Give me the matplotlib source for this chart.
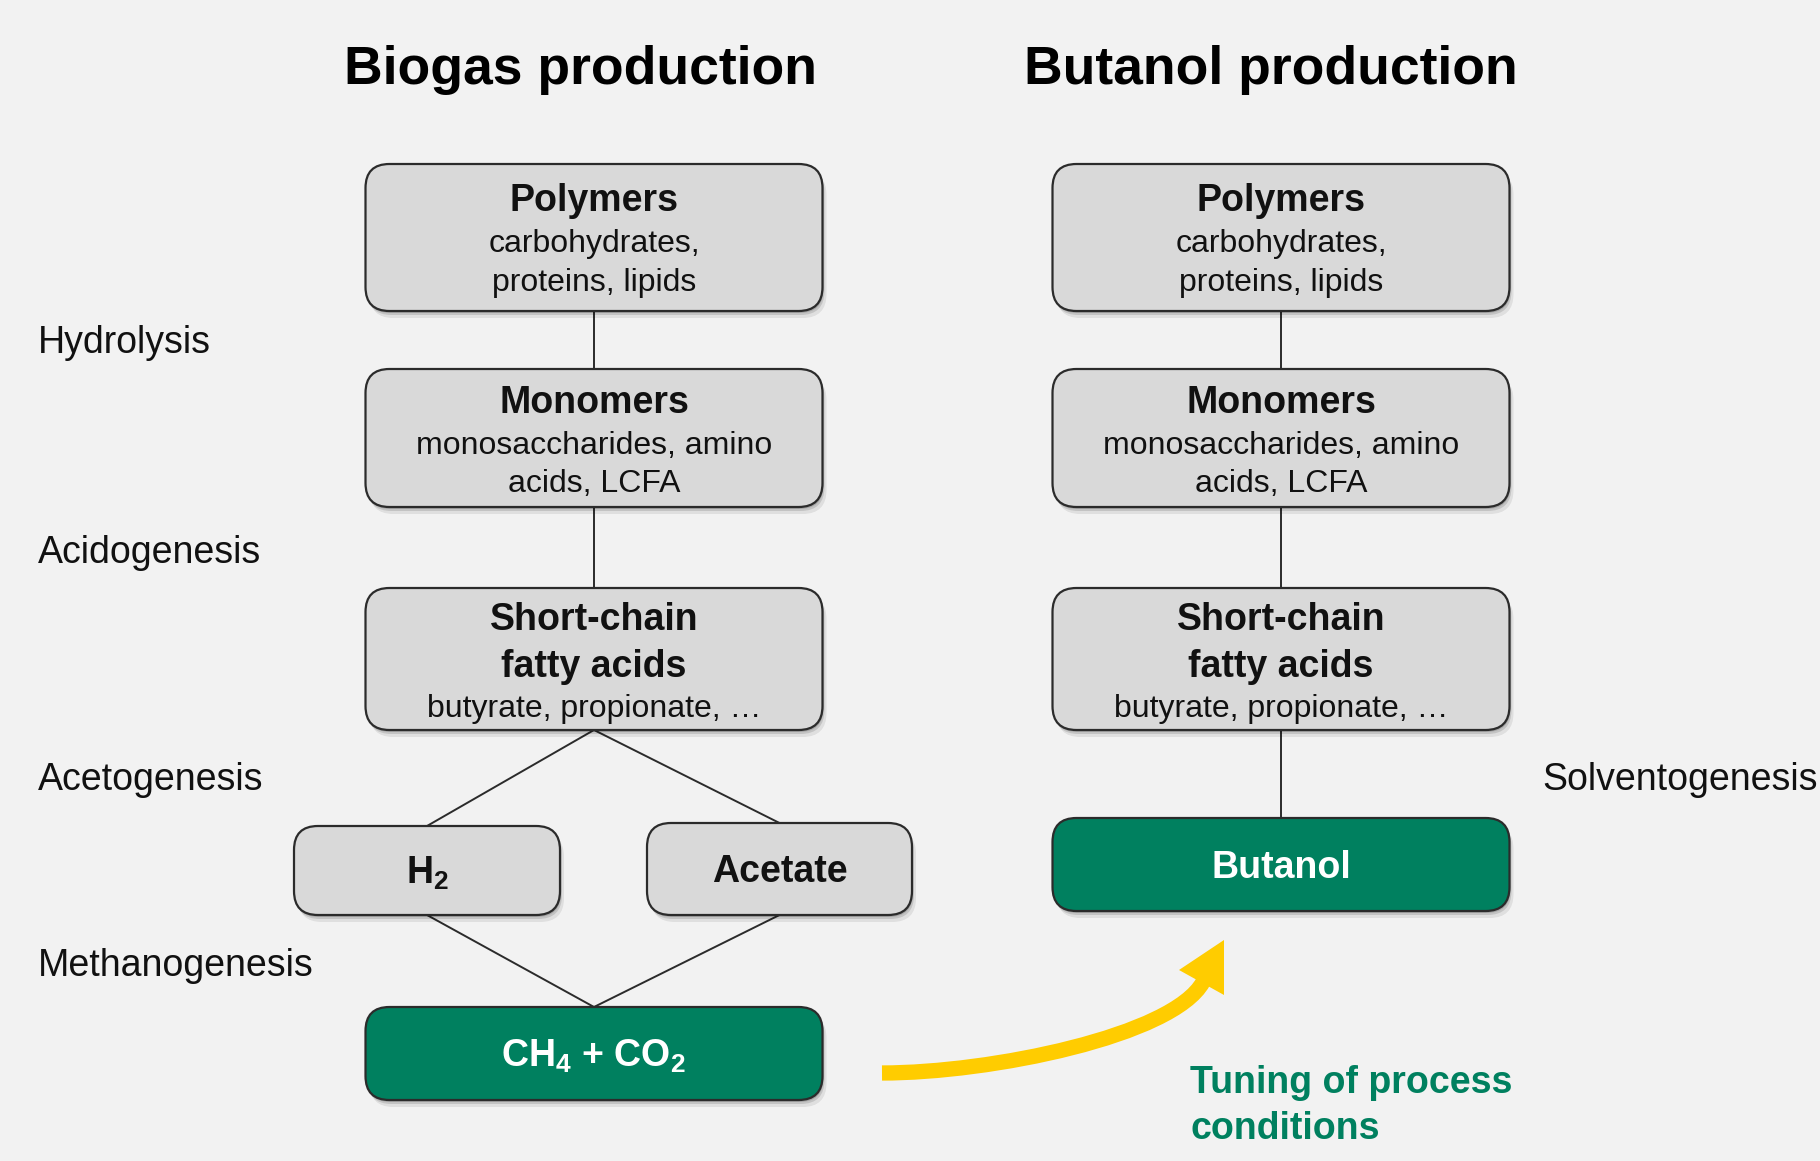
import matplotlib.pyplot as plt
from matplotlib.patches import FancyBboxPatch, Polygon, PathPatch
from matplotlib.path import Path

plt.rcParams['font.family'] = ['Liberation Sans', 'DejaVu Sans']
plt.rcParams['mathtext.fontset'] = 'custom'
plt.rcParams['mathtext.rm'] = 'Liberation Sans'
plt.rcParams['mathtext.bf'] = 'Liberation Sans:bold'

# text content
titles = ["Biogas production", "Butanol production"]
steps_left = ["Hydrolysis", "Acidogenesis", "Acetogenesis", "Methanogenesis"]
step_right = "Solventogenesis"
stage_heads = [["Polymers"], ["Monomers"], ["Short-chain", "fatty acids"]]
stage_subs = [["carbohydrates,", "proteins, lipids"],
              ["monosaccharides, amino", "acids, LCFA"],
              ["butyrate, propionate, …"]]
mid_products = ["H$_\\mathbf{2}$", "Acetate"]
end_products = ["CH$_\\mathbf{4}$ + CO$_\\mathbf{2}$", "Butanol"]
note = "Tuning of process\nconditions"

# layout (pixel coordinates of the 1820x1161 canvas)
col_x = [594, 1281]
title_x = [580, 1271]
box_w = 457
stage_y = [(164, 311), (369, 507), (588, 730)]
stage_line_y = [[201, 244, 283], [403, 446, 484], [620, 667, 709]]
step_y = [343, 553, 780, 966]
mid_x = [(294, 560), (647, 912)]
mid_y = [(826, 915), (823, 915)]
end_y = [(1007, 1100), (818, 911)]

grey = "#d9d9d9"
green = "#00805f"
edge = "#2b2b2b"
bg = "#f2f2f2"

fig = plt.figure(figsize=(18.2, 11.61), dpi=100, facecolor=bg)
ax = fig.add_axes([0, 0, 1, 1])
ax.set_xlim(0, 1820)
ax.set_ylim(1161, 0)
ax.axis('off')
ax.set_facecolor(bg)


def box(x0, x1, y0, y1, fc):
    for dx, dy, a in [(2, 4, 0.12), (4, 7, 0.08), (1, 2, 0.15)]:
        sh = FancyBboxPatch((x0 + dx, y0 + dy), x1 - x0, y1 - y0,
                            boxstyle="round,pad=0,rounding_size=24",
                            fc="black", ec="none", alpha=a, zorder=1)
        ax.add_patch(sh)
    p = FancyBboxPatch((x0, y0), x1 - x0, y1 - y0,
                       boxstyle="round,pad=0,rounding_size=24",
                       fc=fc, ec=edge, lw=1.6, zorder=2)
    ax.add_patch(p)


def line(p, q):
    ax.plot([p[0], q[0]], [p[1], q[1]], color=edge, lw=1.4, zorder=0.5)


for i in range(2):
    cx = col_x[i]
    ax.text(title_x[i], 70, titles[i], fontsize=38.5, fontweight='bold',
            ha='center', va='center', color='black')
    for k in range(3):
        y0, y1 = stage_y[k]
        box(cx - box_w / 2, cx + box_w / 2, y0, y1, grey)
        lines = [(t, 'bold', 27) for t in stage_heads[k]] + \
                [(t, 'normal', 23) for t in stage_subs[k]]
        for (t, w, fs), ly in zip(lines, stage_line_y[k]):
            ax.text(cx, ly, t, fontsize=fs, fontweight=w, ha='center',
                    va='center', color='#111111', zorder=3)
        if k < 2:
            line((cx, y1), (cx, stage_y[k + 1][0]))

# biogas branch
cx = col_x[0]
scfa_bottom = stage_y[2][1]
for j in range(2):
    x0, x1 = mid_x[j]
    y0, y1 = mid_y[j]
    mx = (x0 + x1) / 2
    box(x0, x1, y0, y1, grey)
    ax.text(mx, (y0 + y1) / 2 + 3, mid_products[j], fontsize=27,
            fontweight='bold', ha='center', va='center', color='#111111',
            zorder=3)
    line((cx, scfa_bottom), (mx, y0))
    line((mx, y1), (cx, end_y[0][0]))

for i in range(2):
    cx = col_x[i]
    y0, y1 = end_y[i]
    box(cx - box_w / 2, cx + box_w / 2, y0, y1, green)
    ax.text(cx, (y0 + y1) / 2 + 3, end_products[i], fontsize=27,
            fontweight='bold', ha='center', va='center', color='white',
            zorder=3)
line((col_x[1], stage_y[2][1]), (col_x[1], end_y[1][0]))

for t, y in zip(steps_left, step_y):
    ax.text(38, y, t, fontsize=27, ha='left', va='center', color='#111111')
ax.text(1542, step_y[2], step_right, fontsize=27, ha='left', va='center',
        color='#111111')

# yellow curved arrow
verts = [(882, 1073), (990, 1073), (1173, 1036), (1203, 982)]
codes = [Path.MOVETO, Path.CURVE4, Path.CURVE4, Path.CURVE4]
ax.add_patch(PathPatch(Path(verts, codes), fc='none', ec='#ffcc00', lw=11,
                       capstyle='butt', zorder=2))
ax.add_patch(Polygon([(1224, 940), (1179, 970), (1224, 995)], closed=True,
                     fc='#ffcc00', ec='none', zorder=2))

ax.text(1190, 1106, note, fontsize=27, fontweight='bold', color=green,
        ha='left', va='center', linespacing=1.38)

fig.savefig('out.png', dpi=100, facecolor=bg)
